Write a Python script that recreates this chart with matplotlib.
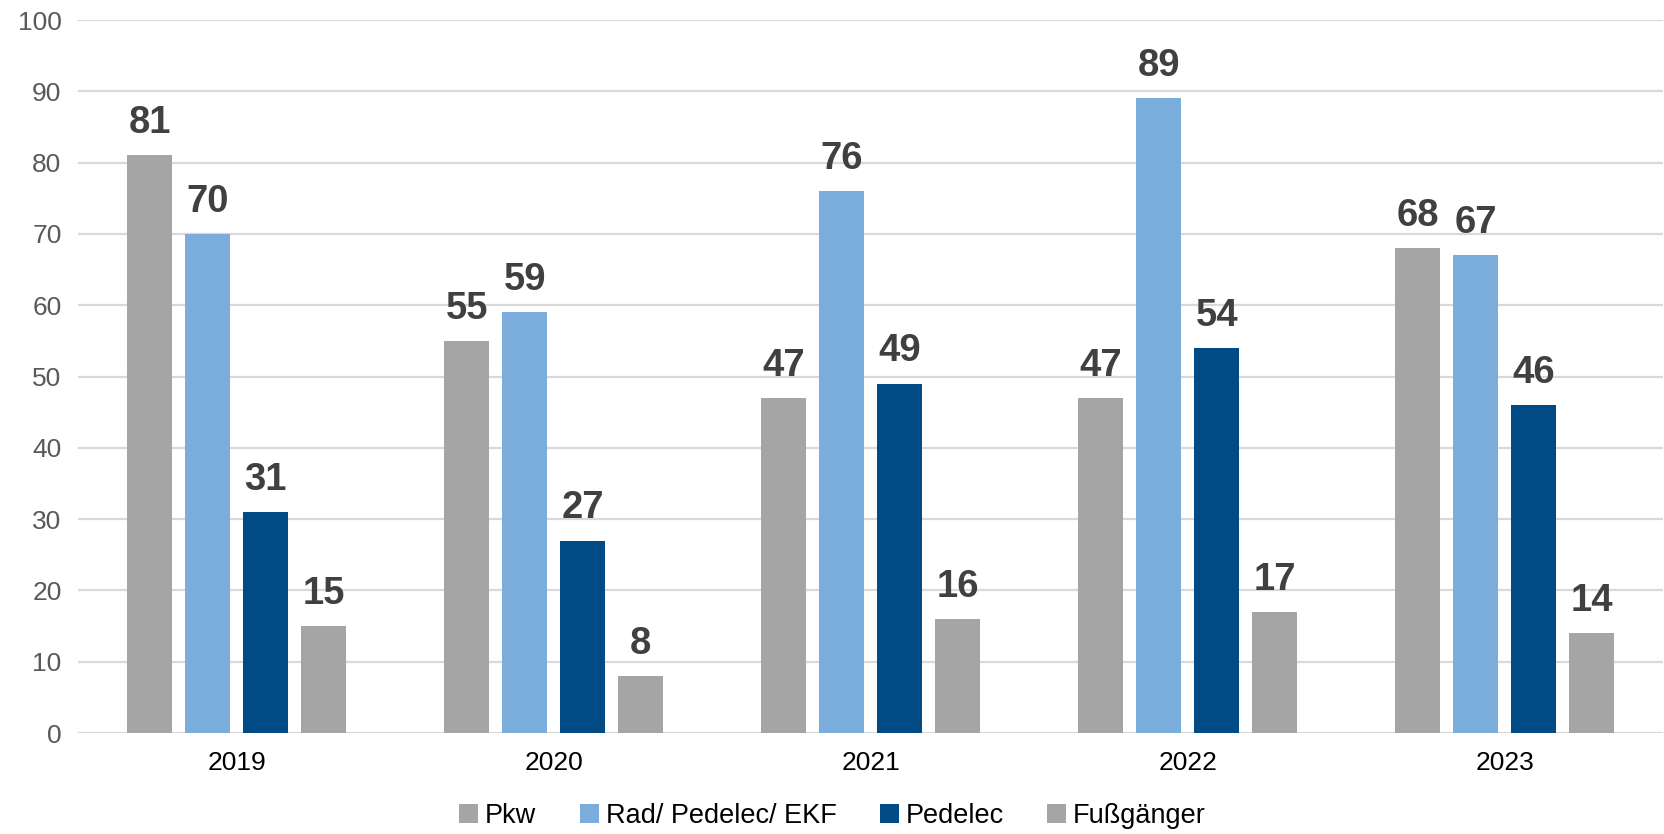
import matplotlib.pyplot as plt
import numpy as np

plt.rcParams['font.family'] = ['Liberation Sans', 'DejaVu Sans']

years = ['2019', '2020', '2021', '2022', '2023']
series = ['Pkw', 'Rad/ Pedelec/ EKF', 'Pedelec', 'Fußgänger']
pkw = [81, 55, 47, 47, 68]
rad = [70, 59, 76, 89, 67]
pedelec = [31, 27, 49, 54, 46]
fuss = [15, 8, 16, 17, 14]
colors = ['#A5A5A5', '#7AADDC', '#004A86', '#A5A5A5']

fig = plt.figure(figsize=(16.65, 8.34), dpi=100)
ax = fig.add_axes([0.047, 0.121, 0.952, 0.855])

x = np.arange(len(years))
pitch = 0.183
width = 0.142
for i, (name, vals) in enumerate(zip(series, [pkw, rad, pedelec, fuss])):
    pos = x + (i - 1.5) * pitch
    bars = ax.bar(pos, vals, width, color=colors[i], label=name, zorder=3)
    for b, v in zip(bars, vals):
        ax.text(b.get_x() + b.get_width() / 2, v + 2.0, str(v), ha='center', va='bottom',
                fontsize=27.5, fontweight='bold', color='#404040')

ax.set_xlim(-0.5, len(years) - 0.5)
ax.set_ylim(0, 100)
ax.set_yticks(range(0, 101, 10))
ax.set_xticks(x)
ax.set_xticklabels(years)
ax.yaxis.grid(True, color='#D9D9D9', linewidth=1.6, zorder=0)
ax.tick_params(axis='y', length=0, labelsize=19, labelcolor='#595959', pad=12)
ax.tick_params(axis='x', length=0, labelsize=19, labelcolor='#000000', pad=13)
for s in ax.spines.values():
    s.set_visible(False)

fig.legend(loc='center', bbox_to_anchor=(0.5, 0.022), ncol=4, frameon=False,
           fontsize=19.5, handlelength=0.7, handleheight=0.7, handletextpad=0.25,
           columnspacing=1.6)

fig.savefig('out.png', dpi=100)
